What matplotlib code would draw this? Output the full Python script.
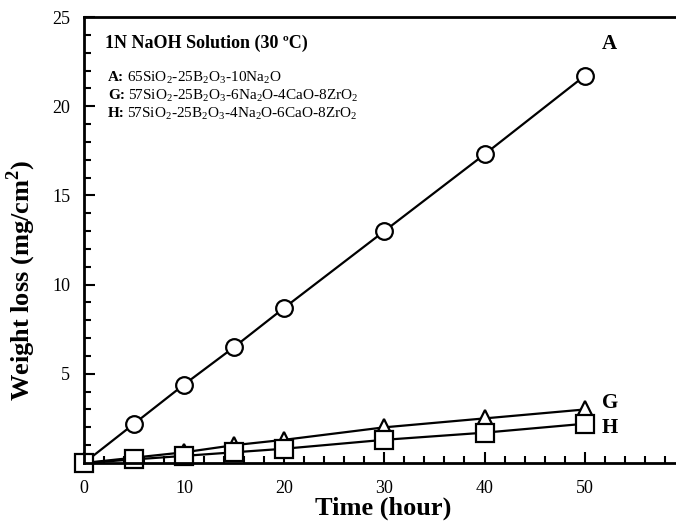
import numpy as np
import matplotlib.pyplot as plt
from matplotlib.ticker import MultipleLocator

plt.rcParams['font.family'] = ['Liberation Serif', 'DejaVu Serif']
plt.rcParams['mathtext.fontset'] = 'custom'
plt.rcParams['mathtext.rm'] = 'Liberation Serif'
plt.rcParams['mathtext.bf'] = 'Liberation Serif:bold'

# data
time = [0, 5, 10, 15, 20, 30, 40, 50]
loss_A = [0, 2.2, 4.4, 6.5, 8.7, 13.0, 17.3, 21.7]
loss_G = [0, 0.3, 0.6, 1.0, 1.3, 2.0, 2.5, 3.0]
loss_H = [0, 0.2, 0.4, 0.6, 0.8, 1.3, 1.7, 2.2]

series_names = ['A', 'G', 'H']
compositions = [r'65SiO$_2$-25B$_2$O$_3$-10Na$_2$O',
                r'57SiO$_2$-25B$_2$O$_3$-6Na$_2$O-4CaO-8ZrO$_2$',
                r'57SiO$_2$-25B$_2$O$_3$-4Na$_2$O-6CaO-8ZrO$_2$']

fig = plt.figure(figsize=(6.76, 5.26), dpi=100)
ax = fig.add_axes([84/676, 1 - 463/526, 1 - 84/676 + 0.01, (463 - 17)/526])

style = dict(color='black', lw=1.6, mfc='white', mec='black', mew=1.6, clip_on=False)
ax.plot(time, loss_A, '-o', ms=12, **style)
ax.plot(time, loss_G, '-^', ms=11, **style)
ax.plot(time, loss_H, '-s', ms=12.5, **style)

ax.set_xlim(0, 59.8)
ax.set_ylim(0, 25)
ax.xaxis.set_major_locator(MultipleLocator(10))
ax.xaxis.set_minor_locator(MultipleLocator(2))
ax.yaxis.set_major_locator(MultipleLocator(5))
ax.yaxis.set_minor_locator(MultipleLocator(1))
ax.tick_params(which='both', direction='in', width=1.5, labelsize=13)
ax.tick_params(which='major', length=8)
ax.tick_params(axis='x', which='major', pad=12)
ax.tick_params(axis='y', which='major', pad=10)
ax.tick_params(which='minor', length=5)
ax.set_yticks([5, 10, 15, 20, 25])
ax.set_xticks([0, 10, 20, 30, 40, 50])

for s in ['left', 'bottom', 'top']:
    ax.spines[s].set_linewidth(2)
ax.spines['right'].set_visible(False)

ax.set_xlabel('Time (hour)', fontsize=19, fontweight='bold', labelpad=0)
ax.set_ylabel('Weight loss (mg/cm$^\\mathbf{2}$)', fontsize=19, fontweight='bold')
ax.yaxis.set_label_coords(-0.076, 0.41)

ax.text(0.035, 0.942, '1N NaOH Solution (30 ºC)', transform=ax.transAxes,
        fontsize=13, fontweight='bold', va='center')
for i, (name, comp) in enumerate(zip(series_names, compositions)):
    yy = 0.865 - i * 0.041
    ax.text(0.04, yy, name + ':', transform=ax.transAxes, fontsize=11,
            fontweight='bold', va='center')
    ax.text(0.04 + (0.031 if name != 'G' else 0.034), yy, comp, transform=ax.transAxes,
            fontsize=11, va='center')

ax.text(51.7, 23.5, 'A', fontsize=15, fontweight='bold', va='center')
ax.text(51.7, 3.35, 'G', fontsize=15, fontweight='bold', va='center')
ax.text(51.7, 1.95, 'H', fontsize=15, fontweight='bold', va='center')

fig.savefig('out.png', dpi=100)
